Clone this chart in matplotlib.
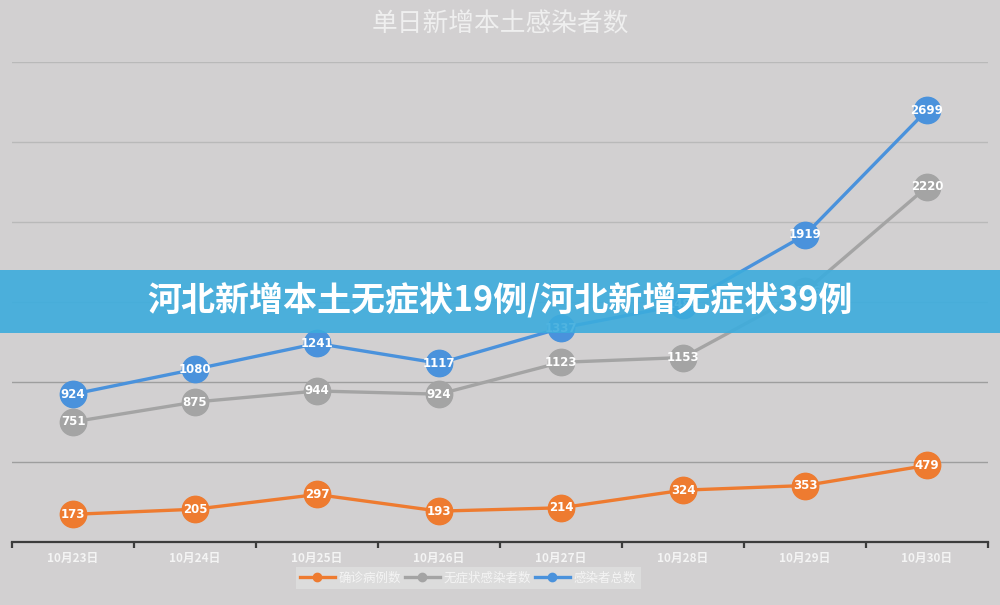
import matplotlib
matplotlib.use("Agg")
import matplotlib.pyplot as plt
from matplotlib.lines import Line2D
from matplotlib.patches import Rectangle

plt.rcParams['font.family'] = ['Noto Sans CJK SC', 'DejaVu Sans']

categories = ["10月23日", "10月24日", "10月25日", "10月26日", "10月27日", "10月28日", "10月29日", "10月30日"]
confirmed = [173, 205, 297, 193, 214, 324, 353, 479]
asymptomatic = [751, 875, 944, 924, 1123, 1153, 1566, 2220]
total = [924, 1080, 1241, 1117, 1337, 1484, 1919, 2699]
series_names = ["确诊病例数", "无症状感染者数", "感染者总数"]
title = "单日新增本土感染者数"
banner = "河北新增本土无症状19例/河北新增无症状39例"

bg = '#d2d0d1'
c_orange = '#ee7b30'
c_gray = '#a4a4a4'
c_blue = '#4a92dc'

fig = plt.figure(figsize=(10, 6.05), dpi=100, facecolor=bg)
ax = fig.add_axes([0.012, 0.1041, 0.976, 0.7934])
ax.set_facecolor(bg)
ax.set_xlim(-0.5, len(categories) - 0.5)
ax.set_ylim(0, 3000)

for v in [500, 1000, 1500, 2000, 2500, 3000]:
    col = '#9e9e9e' if v <= 1000 else '#b9b9b9'
    ax.axhline(v, color=col, lw=1.0, zorder=1)

for s in ['top', 'right', 'left']:
    ax.spines[s].set_visible(False)
ax.spines['bottom'].set_color('#3c3c3c')
ax.spines['bottom'].set_linewidth(1.6)
ax.set_yticks([])

x = list(range(len(categories)))
ax.set_xticks([i - 0.5 for i in range(len(categories) + 1)], minor=False)
ax.set_xticklabels([])
ax.tick_params(axis='x', which='major', length=4, width=1.6, color='#3c3c3c', direction='out')
ax.set_xticks(x, minor=True)
ax.set_xticklabels(categories, minor=True, color='#f4f4f4', fontsize=8.5, fontweight='bold')
ax.tick_params(axis='x', which='minor', length=0, pad=7)

for data, col in [(confirmed, c_orange), (asymptomatic, c_gray), (total, c_blue)]:
    ax.plot(x, data, color=col, lw=2.4, marker='o', markersize=19,
            markerfacecolor=col, markeredgecolor=col, zorder=3, clip_on=False)
    for xi, v in zip(x, data):
        ax.text(xi, v, str(v), color='white', fontsize=8.5, fontweight='bold',
                ha='center', va='center', zorder=4, family=['DejaVu Sans'])

fig.text(0.5, 1 - 25 / 605, title, ha='center', va='center', fontsize=18.5,
         color='#efefef')

handles = [Line2D([0], [0], color=c, lw=2.4, marker='o', markersize=6) for c in (c_orange, c_gray, c_blue)]
leg = fig.legend(handles, series_names, loc='center', bbox_to_anchor=(468 / 1000, 1 - 578 / 605),
                 ncol=3, frameon=True, fontsize=9, handlelength=2.8, columnspacing=0.3,
                 handletextpad=0.3, borderpad=0.35, fancybox=False)
leg.get_frame().set_facecolor('#dcdcdc')
leg.get_frame().set_edgecolor('none')
leg.get_frame().set_alpha(1)
for t in leg.get_texts():
    t.set_color('#f4f4f4')

fig.patches.append(Rectangle((0, 1 - 333 / 605), 1, 63 / 605, transform=fig.transFigure,
                             facecolor='#3cacdd', alpha=0.9, edgecolor='none', zorder=10))
fig.text(0.5, 1 - 301 / 605, banner, ha='center', va='center', fontsize=24.5,
         fontweight='black', color='white', zorder=11)

fig.savefig('out.png', dpi=100, facecolor=bg)
